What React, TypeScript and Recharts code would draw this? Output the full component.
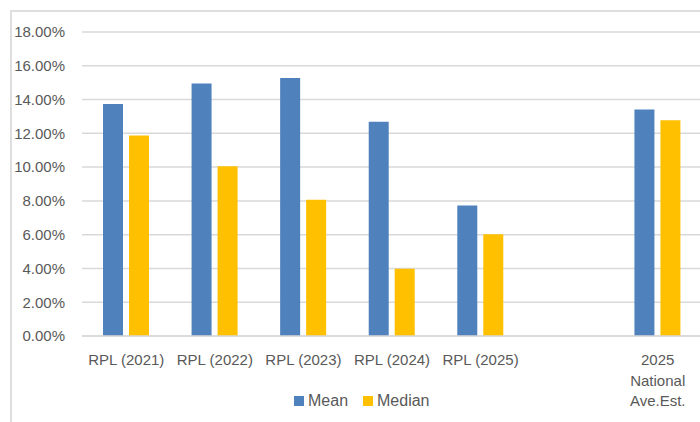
import React from "react";
import { BarChart, Bar, XAxis, YAxis, CartesianGrid } from "recharts";

const categories = [
  "RPL (2021)",
  "RPL (2022)",
  "RPL (2023)",
  "RPL (2024)",
  "RPL (2025)",
  "",
  "2025\nNational\nAve.Est.",
];
const meanValues: (number | null)[] = [13.73, 14.95, 15.28, 12.68, 7.72, null, 13.41];
const medianValues: (number | null)[] = [11.87, 10.05, 8.07, 3.98, 6.02, null, 12.78];
const yTicks = [0, 2, 4, 6, 8, 10, 12, 14, 16, 18];
const seriesNames = ["Mean", "Median"];
const seriesColors = ["#4f81bd", "#ffc000"];

const data = categories.map((c, i) => ({
  category: c,
  mean: meanValues[i],
  median: medianValues[i],
}));

const FONT = "'Liberation Sans', Arial, sans-serif";
const TEXT = "#595959";

const CategoryTick = (props: any) => {
  const { x, y, payload } = props;
  const lines = String(payload.value).split("\n");
  return (
    <text x={x} y={y} textAnchor="middle" fill={TEXT} fontSize={15} fontFamily={FONT}>
      {lines.map((l, i) => (
        <tspan key={i} x={x} dy={i === 0 ? 29 : 20.5}>
          {l}
        </tspan>
      ))}
    </text>
  );
};

export default function App() {
  return (
    <div
      style={{
        position: "fixed",
        left: 0,
        top: 0,
        width: 700,
        height: 422,
        overflow: "hidden",
        background: "#fff",
      }}
    >
      <div
        style={{
          position: "absolute",
          left: 10,
          top: 10,
          width: 740,
          height: 440,
          border: "2px solid #dedede",
        }}
      />
      <div style={{ position: "absolute", left: 0, top: 0 }}>
        <BarChart
          width={720}
          height={422}
          data={data}
          margin={{ top: 32, right: 18, bottom: 0, left: 0 }}
          barSize={20}
          barGap={6}
        >
          <CartesianGrid vertical={false} stroke="#d9d9d9" strokeWidth={1.5} />
          <XAxis
            dataKey="category"
            height={86}
            interval={0}
            tickLine={false}
            tickSize={0}
            tickMargin={0}
            axisLine={{ stroke: "#d9d9d9", strokeWidth: 1.5 }}
            tick={<CategoryTick />}
          />
          <YAxis
            width={82}
            domain={[0, 18]}
            ticks={yTicks}
            interval={0}
            axisLine={false}
            tickLine={false}
            tickSize={0}
            tickMargin={17}
            tickFormatter={(v: number) => v.toFixed(2) + "%"}
            tick={{ fill: TEXT, fontSize: 15, fontFamily: FONT }}
          />
          <Bar dataKey="mean" name={seriesNames[0]} fill={seriesColors[0]} isAnimationActive={false} />
          <Bar dataKey="median" name={seriesNames[1]} fill={seriesColors[1]} isAnimationActive={false} />
        </BarChart>
      </div>
      <div
        style={{
          position: "absolute",
          left: 294,
          top: 392,
          display: "flex",
          alignItems: "center",
          fontFamily: FONT,
          fontSize: 16,
          color: TEXT,
          whiteSpace: "nowrap",
        }}
      >
        {seriesNames.map((n, i) => (
          <div key={n} style={{ display: "flex", alignItems: "center", marginRight: 15 }}>
            <span
              style={{
                display: "inline-block",
                width: 10,
                height: 10,
                background: seriesColors[i],
                marginRight: 4,
              }}
            />
            <span>{n}</span>
          </div>
        ))}
      </div>
    </div>
  );
}
